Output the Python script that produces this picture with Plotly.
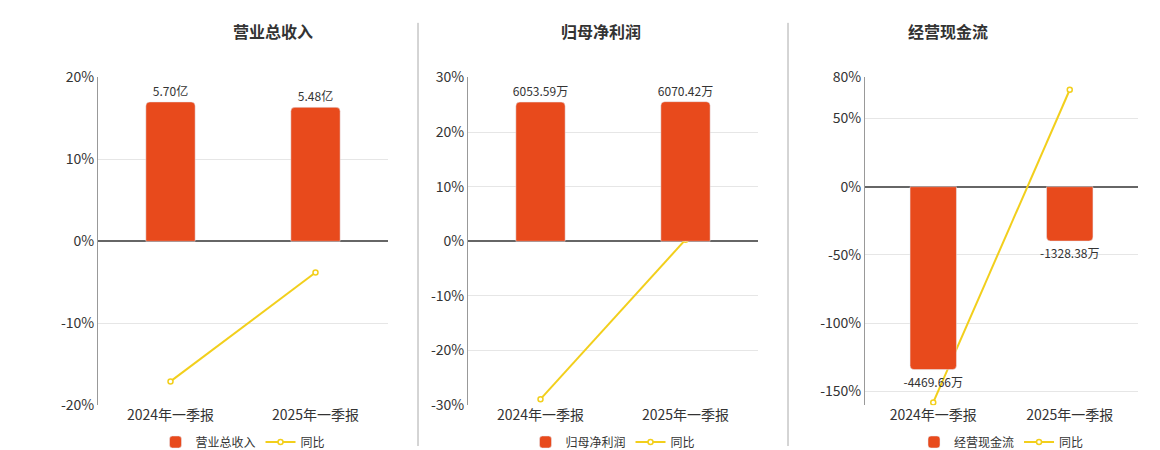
import plotly.graph_objects as go

cats = ["2024年一季报", "2025年一季报"]
titles = ["营业总收入", "归母净利润", "经营现金流"]
bar_vals = [[5.70, 5.48], [6053.59, 6070.42], [-4469.66, -1328.38]]
bar_text = [["5.70亿", "5.48亿"], ["6053.59万", "6070.42万"], ["-4469.66万", "-1328.38万"]]
yoy = [[-17.1, -3.8], [-28.9, 0.3], [-158.0, 71.0]]
y_ranges = [[-20, 20], [-30, 30], [-160, 80]]
y_ticks = [[-20, -10, 0, 10, 20], [-30, -20, -10, 0, 10, 20, 30], [-150, -100, -50, 0, 50, 80]]
bar_scale = [0.335, 237.4, 33.36]

doms = [[90/1160, 380/1160], [460/1160, 750/1160], [857/1160, 1130/1160]]
fig = go.Figure()
BAR = "#e84a1c"; LINE = "#f2cf1c"
for i in range(3):
    n = i + 1
    xa = "x" if n == 1 else f"x{n}"
    ya = f"y{2*n-1}" if n > 1 else "y"
    yb = f"y{2*n}"
    leg = "legend" if n == 1 else f"legend{n}"
    fig.add_trace(go.Bar(x=cats, y=bar_vals[i], text=bar_text[i], textposition="outside",
                         textfont=dict(size=12, color="#333"), cliponaxis=False, constraintext="none",
                         marker=dict(color=BAR, cornerradius=4), width=0.34,
                         name=titles[i], xaxis=xa, yaxis=yb, legend=leg))
    fig.add_trace(go.Scatter(x=cats, y=yoy[i], mode="lines+markers", name="同比",
                             line=dict(color=LINE, width=2),
                             marker=dict(symbol="circle", size=5, color="white", line=dict(color=LINE, width=1.5)),
                             xaxis=xa, yaxis=ya, legend=leg))
    xkey = "xaxis" if n == 1 else f"xaxis{n}"
    yakey = "yaxis" if n == 1 else f"yaxis{2*n-1}"
    ybkey = f"yaxis{2*n}"
    fig.layout[xkey] = dict(domain=doms[i], anchor=ya, tickfont=dict(size=14, color="#333"),
                            showgrid=False, showline=False, ticks="")
    fig.layout[yakey] = dict(domain=[0.102, 0.864], range=y_ranges[i], tickvals=y_ticks[i],
                             ticktext=[f"{v}%" for v in y_ticks[i]], tickfont=dict(size=14, color="#333"),
                             gridcolor="#e6e6e6", zeroline=True, zerolinecolor="#666", zerolinewidth=1.5,
                             showline=True, linecolor="#999", anchor=xa)
    k = bar_scale[i]
    fig.layout[ybkey] = dict(range=[y_ranges[i][0]*k, y_ranges[i][1]*k], overlaying=ya, visible=False,
                             anchor=xa)
    fig.layout[leg] = dict(orientation="h", x=(doms[i][0]+doms[i][1])/2, xanchor="center", y=0.05, yanchor="top",
                           font=dict(size=12, color="#333"), bgcolor="rgba(0,0,0,0)")
    fig.add_annotation(text=f"<b>{titles[i]}</b>", x=(doms[i][0]+doms[i][1])/2 - 0.01, y=0.973, xref="paper",
                       yref="paper", showarrow=False, yanchor="middle", font=dict(size=16, color="#333"))

for xp in [410/1160, 780/1160]:
    fig.add_shape(type="line", xref="paper", yref="paper", x0=xp, x1=xp, y0=0.007, y1=0.991,
                  line=dict(color="#aaa", width=1))

fig.update_layout(width=1160, height=450, margin=dict(l=0, r=0, t=10, b=0), plot_bgcolor="white",
                  paper_bgcolor="white", font=dict(family="Noto Sans CJK SC"), barmode="overlay")
fig.write_html("out.html")
